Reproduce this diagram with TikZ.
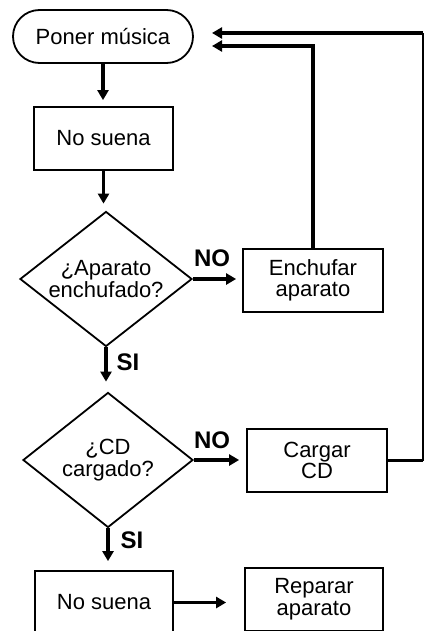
\documentclass[tikz,border=0pt]{standalone}
\usepackage{fontspec}
\setmainfont{Liberation Sans}
\usetikzlibrary{
	arrows.meta,
	shapes.geometric,
	shapes.misc,
}

\tikzset{
	caja/.style={draw, line width=0.9pt, minimum width=70pt, minimum height=31.5pt,
		align=center, inner sep=0pt, font=\fontsize{11}{10.8}\selectfont},
	inicio/.style={caja, rounded rectangle, minimum width=90pt, minimum height=26.5pt},
	pregunta/.style={caja, diamond, aspect=1.27, minimum width=86pt, minimum height=67.5pt},
	flecha/.style={-{Triangle[length=5pt,width=5.5pt]}, line width=1.6pt, shorten >=3pt},
	etiq/.style={font=\fontsize{12}{12}\bfseries\selectfont, inner sep=0pt},
}

\begin{document}
\begin{tikzpicture}[x=0.5pt,y=-0.5pt]
	\useasboundingbox (0,0) rectangle (424,631);

	\node[inicio]   (poner)    at (103,36.5)  {Poner música};
	\node[caja, minimum width=69.5pt] (suena1) at (103.5,138.5) {No suena};
	\node[pregunta] (preg1)    at (106,279)   {¿Aparato\\enchufado?};
	\node[caja]     (enchufar) at (313,280.5) {Enchufar\\aparato};
	\node[pregunta, minimum width=85pt] (preg2) at (108,460) {¿CD\\cargado?};
	\node[caja]     (cargar)   at (317,460.5) {Cargar\\CD};
	\node[caja, minimum width=69pt] (suena2) at (104,602.5) {No suena};
	\node[caja, minimum width=69pt] (reparar) at (314,599.5) {Reparar\\aparato};

	\node[etiq] (no1) at (212,258) {NO};
	\node[etiq] (si1) at (128,362) {SI};
	\node[etiq] (no2) at (212,440) {NO};
	\node[etiq] (si2) at (132,540) {SI};

	\coordinate (r1) at (212,46);
	\coordinate (r2) at (212,33);
	\coordinate (e1) at (423,460.5);
	\coordinate (e2) at (423,33);

	\draw[flecha] (poner.south) -- (suena1.north -| poner.south);
	\draw[flecha, shorten >=3.5pt] (suena1.south) -- (suena1.south |- preg1.north);
	\draw[flecha, shorten >=3pt] (preg1.east) -- (preg1.east -| enchufar.west);
	\draw[flecha, shorten >=5pt] (preg1.south) -- (preg1.south |- preg2.north);
	\draw[flecha, shorten >=3.5pt] (preg2.east) -- (preg2.east -| cargar.west);
	\draw[flecha, shorten >=4.5pt] (preg2.south) -- (preg2.south |- suena2.north);
	\draw[flecha, shorten >=9pt] (suena2.east) -- (suena2.east -| reparar.west);

	\draw[flecha, shorten >=0pt] (enchufar.north) |- (r1);
	\draw[line width=1.6pt] (cargar.east) -- (e1);
	\draw[line width=0.9pt] (e1) -- (e2);
	\draw[flecha, shorten >=0pt] (e2) -- (r2);
\end{tikzpicture}
\end{document}
